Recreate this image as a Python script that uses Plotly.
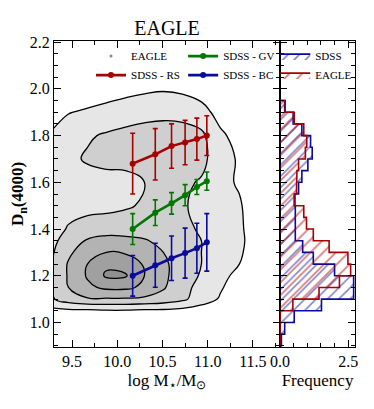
import plotly.graph_objects as go

# EAGLE galaxies: density of points in the mass - Dn4000 plane (contour level units)
grid_mass = [9.25, 9.46, 9.67, 9.88, 10.09, 10.30, 10.51, 10.72, 10.93, 11.14, 11.35, 11.56, 11.77]
grid_dn = [0.90, 1.00, 1.05, 1.10, 1.15, 1.20, 1.25, 1.30, 1.35, 1.40,
           1.50, 1.60, 1.70, 1.80, 1.90, 2.00, 2.10, 2.20]
density = [
    [0.0, 0.0, 0.0, 0.0, 0.0, 0.0, 0.0, 0.0, 0.0, 0.0, 0.0, 0.0, 0.0],
    [0.1, 0.2, 0.2, 0.2, 0.2, 0.2, 0.2, 0.1, 0.1, 0.0, 0.0, 0.0, 0.0],
    [0.7, 0.8, 0.8, 0.9, 0.9, 0.8, 0.8, 0.7, 0.5, 0.3, 0.1, 0.0, 0.0],
    [1.8, 2.5, 2.9, 2.9, 2.9, 2.8, 2.6, 2.2, 1.5, 0.9, 0.3, 0.0, 0.0],
    [1.8, 3.0, 3.8, 4.2, 4.2, 3.8, 3.1, 2.3, 1.7, 1.1, 0.5, 0.1, 0.0],
    [1.85, 3.1, 4.1, 5.15, 5.1, 4.0, 3.2, 2.5, 1.9, 1.2, 0.8, 0.2, 0.0],
    [1.8, 3.1, 4.0, 4.8, 4.6, 3.9, 3.2, 2.5, 2.0, 1.2, 1.0, 0.3, 0.0],
    [1.75, 2.8, 3.6, 4.0, 3.9, 3.5, 3.0, 2.4, 2.0, 1.3, 1.15, 0.4, 0.0],
    [1.6, 2.5, 3.1, 3.4, 3.3, 3.1, 2.7, 2.3, 2.0, 1.3, 1.2, 0.5, 0.0],
    [1.45, 2.1, 2.4, 2.5, 2.5, 2.5, 2.4, 2.2, 1.9, 1.2, 1.15, 0.5, 0.0],
    [1.4, 1.6, 1.7, 1.75, 1.9, 2.1, 2.2, 2.1, 1.75, 1.2, 1.1, 0.4, 0.0],
    [1.3, 1.5, 1.65, 1.75, 1.85, 2.0, 2.1, 2.2, 1.9, 1.25, 0.9, 0.3, 0.0],
    [1.4, 1.8, 2.1, 2.2, 2.15, 2.2, 2.3, 2.4, 2.3, 1.35, 0.9, 0.1, 0.0],
    [1.05, 1.6, 1.9, 2.1, 2.2, 2.3, 2.35, 2.4, 2.2, 1.2, 0.6, 0.0, 0.0],
    [0.6, 0.95, 1.15, 1.4, 1.65, 1.75, 1.8, 1.7, 1.4, 0.6, 0.2, 0.0, 0.0],
    [0.1, 0.2, 0.3, 0.4, 0.6, 0.8, 0.9, 0.8, 0.5, 0.2, 0.0, 0.0, 0.0],
    [0.0, 0.0, 0.0, 0.0, 0.1, 0.1, 0.1, 0.1, 0.0, 0.0, 0.0, 0.0, 0.0],
    [0.0, 0.0, 0.0, 0.0, 0.0, 0.0, 0.0, 0.0, 0.0, 0.0, 0.0, 0.0, 0.0],
]

# SDSS medians with errors
sdss_mass = [10.17, 10.42, 10.60, 10.75, 10.88, 10.99]
rs_dn = [1.68, 1.72, 1.755, 1.77, 1.785, 1.80]
rs_err = [0.13, 0.11, 0.095, 0.095, 0.09, 0.085]
gv_dn = [1.40, 1.47, 1.51, 1.545, 1.58, 1.605]
gv_err = [0.066, 0.055, 0.046, 0.045, 0.032, 0.039]
bc_dn = [1.20, 1.245, 1.275, 1.297, 1.318, 1.343]
bc_err = [0.087, 0.094, 0.095, 0.107, 0.107, 0.123]

# Dn4000 histograms (normalised), bin centres
hist_dn = [0.925, 0.975, 1.025, 1.075, 1.125, 1.175, 1.225, 1.275, 1.325, 1.375, 1.425,
           1.475, 1.525, 1.575, 1.625, 1.675, 1.725, 1.775, 1.825, 1.875, 1.925]
sdss_freq = [0.05, 0.17, 0.52, 1.52, 2.70, 2.70, 2.00, 1.22, 0.83, 0.56, 0.56,
             0.56, 0.52, 0.68, 0.80, 1.02, 1.18, 1.12, 0.80, 0.48, 0.17]
eagle_freq = [0.0, 0.0, 0.0, 0.47, 1.43, 2.18, 2.59, 2.49, 1.80, 1.22, 0.97,
              0.87, 0.55, 0.60, 0.62, 0.68, 0.93, 0.98, 0.87, 0.52, 0.19]

RED = '#a80000'
GREEN = '#007800'
BLUE = '#0a0a9c'
FONT = 'Liberation Serif'

fig = go.Figure()

fig.add_trace(go.Contour(
    x=grid_mass, y=grid_dn, z=density,
    contours=dict(start=1, end=5, size=1, coloring='fill'),
    colorscale=[[0, '#ffffff'], [0.2, '#e6e6e6'], [0.4, '#cfcfcf'],
                [0.6, '#b3b3b3'], [0.8, '#a0a0a0'], [1, '#909090']],
    line=dict(color='black', width=1.3, smoothing=1.3),
    showscale=False, showlegend=False, hoverinfo='skip'))

# legend entry for the EAGLE points
fig.add_trace(go.Scatter(x=[None], y=[None], mode='markers', name='EAGLE',
                         marker=dict(color='#888888', size=3), legend='legend'))


def sdss_trace(dn, err, color, name, legend):
    return go.Scatter(
        x=sdss_mass, y=dn, mode='lines+markers', name=name, legend=legend,
        line=dict(color=color, width=2.6),
        marker=dict(color=color, size=6),
        error_y=dict(type='data', array=err, color=color, thickness=1.6, width=2.5))


fig.add_trace(sdss_trace(rs_dn, rs_err, RED, 'SDSS - RS', 'legend'))
fig.add_trace(sdss_trace(gv_dn, gv_err, GREEN, 'SDSS - GV', 'legend2'))
fig.add_trace(sdss_trace(bc_dn, bc_err, BLUE, 'SDSS - BC', 'legend2'))


def step_outline(freq):
    xs, ys = [0], [hist_dn[0] - 0.025]
    for c, f in zip(hist_dn, freq):
        xs += [f, f]
        ys += [c - 0.025, c + 0.025]
    xs.append(0)
    ys.append(hist_dn[-1] + 0.025)
    return xs, ys


for freq, color, name, size in [(sdss_freq, BLUE, 'SDSS', 8), (eagle_freq, RED, 'EAGLE', 9)]:
    xs, ys = step_outline(freq)
    fig.add_trace(go.Scatter(
        x=xs, y=ys, mode='lines', name=name, xaxis='x2', yaxis='y2', legend='legend3',
        line=dict(color=color, width=1.6),
        fill='toself', fillcolor='rgba(0,0,0,0)',
        fillpattern=dict(shape='/', fgcolor=color, bgcolor='rgba(0,0,0,0)',
                         size=size, solidity=0.2)))

axis_common = dict(showline=True, linecolor='black', linewidth=1.3, mirror='ticks',
                   ticks='inside', ticklen=7, tickwidth=1.1, tickcolor='black',
                   showgrid=False, zeroline=False, automargin=False,
                   tickfont=dict(family=FONT, size=16, color='black'))
title_font = dict(family=FONT, size=17, color='black')
legend_common = dict(xanchor='left', yanchor='top', bgcolor='rgba(0,0,0,0)',
                     font=dict(family=FONT, size=11, color='black'), tracegroupgap=0,
                     itemwidth=30)

# the page adds an 8px body margin, so the figure is 8px smaller than the window
fig.update_layout(
    width=366, height=401,
    margin=dict(l=46, r=19, t=33, b=62),
    paper_bgcolor='white', plot_bgcolor='white',
    title=dict(text='EAGLE', font=dict(family=FONT, size=20, color='black'),
               x=0.3755, xref='paper', xanchor='center', y=0.95, yanchor='middle'),
    xaxis=dict(domain=[0, 0.751], range=[9.3, 11.8], tickvals=[9.5, 10.0, 10.5, 11.0, 11.5],
               tickformat='.1f', minor=dict(ticks='inside', dtick=0.25, ticklen=4, tickcolor='black'),
               title=dict(text='log M<sub>⋆</sub>/M<sub>⊙</sub>', standoff=4, font=title_font),
               anchor='y', **axis_common),
    yaxis=dict(domain=[0, 1], range=[0.895, 2.205], dtick=0.2, tickformat='.1f',
               minor=dict(ticks='inside', dtick=0.05, ticklen=4, tickcolor='black'),
               title=dict(text='<b>D<sub>n</sub>(4000)</b>', standoff=6, font=title_font),
               anchor='x', **axis_common),
    xaxis2=dict(domain=[0.751, 1], range=[0, 2.75], tickvals=[0, 2.5], tickformat='.1f',
                minor=dict(ticks='inside', dtick=0.5, ticklen=4, tickcolor='black'),
                title=dict(text='Frequency', standoff=4, font=title_font),
                anchor='y2', **axis_common),
    yaxis2=dict(domain=[0, 1], matches='y', showticklabels=False, dtick=0.2,
                minor=dict(ticks='inside', dtick=0.05, ticklen=4, tickcolor='black'),
                anchor='x2', **axis_common),
    legend=dict(x=0.123, y=0.998, **legend_common),
    legend2=dict(x=0.429, y=0.998, **legend_common),
    legend3=dict(x=0.735, y=0.998, **legend_common),
)

fig.write_html("out.html")
